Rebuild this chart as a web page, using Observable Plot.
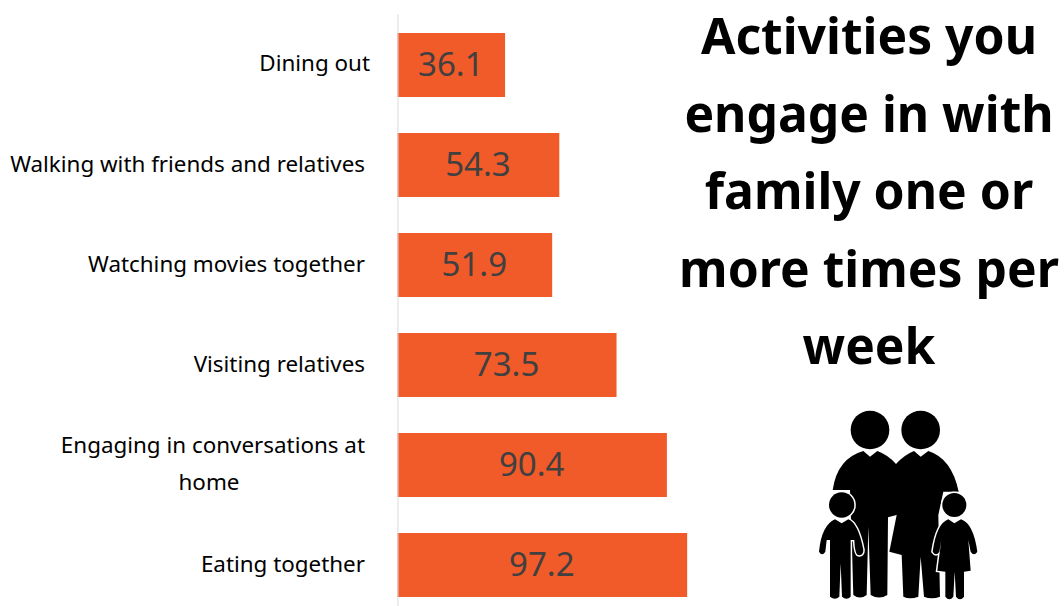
<!DOCTYPE html>
<html><head><meta charset="utf-8">
<script src="https://cdn.jsdelivr.net/npm/d3@7"></script>
<script src="https://cdn.jsdelivr.net/npm/@observablehq/plot@0.6"></script>
<style>
html,body{margin:0;padding:0;background:#fff}
#wrap{position:relative;width:1064px;height:606px;overflow:hidden}
#title{position:absolute;left:669px;top:-3px;width:400px;text-align:center;font:700 49.8px/77.5px "Noto Sans",sans-serif;color:#000}
#icon{position:absolute;left:800px;top:400px}
</style></head><body>
<div id="wrap"><div id="chart"></div>
<div id="title">Activities you<br>engage in with<br>family one or<br>more times per<br>week</div>
<svg id="icon" width="200" height="206" viewBox="0 0 600 618">
<g fill="#000">
<circle cx="210" cy="90" r="58"/><circle cx="362" cy="90" r="58"/>
<path d="M190,153 L210,170 L232,153 Q265,165 288,192 Q312,165 342,153 L362,170 L385,153 Q455,175 476,275 L430,275 L415,345 L420,590 Q395,600 372,590 L362,470 L355,590 Q330,600 310,590 L305,465 L268,455 L290,345 L264,352 L262,585 Q238,600 212,585 L205,380 L200,585 Q180,600 160,585 L150,270 L98,270 Q112,175 190,153 Z"/>
</g>
<g fill="#000" stroke="#fff" stroke-width="9" paint-order="stroke">
<circle cx="125" cy="315" r="38"/><circle cx="463" cy="315" r="36"/>
<path d="M105,358 L125,370 L145,358 Q175,370 190,450 Q190,468 175,465 Q165,465 163,420 L152,420 L152,590 Q140,602 126,590 L122,490 L118,590 Q105,602 90,590 L90,420 L80,420 L76,455 Q66,470 57,455 Q65,375 105,358 Z"/>
<path d="M445,358 L463,370 L483,358 Q520,370 532,455 Q522,470 512,455 L505,420 L512,512 L492,515 L492,590 Q480,605 468,590 L464,515 L460,590 Q448,605 436,590 L436,515 L412,512 L424,420 L418,455 Q408,470 398,455 Q410,370 445,358 Z"/>
</g>
</svg>
</div>
<script>
const categories = ["Dining out","Walking with friends and relatives","Watching movies together","Visiting relatives","Engaging in conversations at home","Eating together"];
const values = [36.1,54.3,51.9,73.5,90.4,97.2];
const wrapped = ["Dining out","Walking with friends and relatives","Watching movies together","Visiting relatives","Engaging in conversations at\nhome","Eating together"];
const rows = categories.map((c,i)=>({c,v:values[i],l:wrapped[i]}));
const font = '"Noto Sans",sans-serif';
const size = 22.4;
const chart = Plot.plot({
  width:1064,height:606,marginTop:14,marginBottom:0,marginLeft:0,marginRight:0,
  style:{background:"transparent"},
  x:{domain:[0,100],range:[397.5,695.5],axis:null},
  y:{domain:categories,range:[14.4,615.6],paddingInner:0.36,paddingOuter:0.18,axis:null},
  marks:[
    Plot.barX(rows,{x:"v",y:"c",fill:"#F15A29"}),
    Plot.ruleX([0],{stroke:"#d9d9d9",strokeWidth:1}),
    Plot.text(rows,{y:"c",text:d=>d.v.toFixed(1),x:d=>d.v/2,dx:-1,dy:-0.5,fill:"#404040",fontSize:33,fontFamily:font}),
    Plot.text(rows.filter(d=>d.c==="Dining out"),{x:0,y:"c",text:"l",textAnchor:"end",dx:-28,dy:-2,fill:"#000",fontSize:size,fontFamily:font}),
    Plot.text(rows.filter(d=>d.c!=="Dining out"&&!d.l.includes("\n")),{x:0,y:"c",text:"l",textAnchor:"end",dx:-33,dy:-1,fill:"#000",fontSize:size,fontFamily:font}),
    Plot.text(rows.filter(d=>d.l.includes("\n")),{x:0,y:"c",text:d=>d.l.split("\n")[0],textAnchor:"end",dx:-33,dy:-20,fill:"#000",fontSize:size,fontFamily:font}),
    Plot.text(rows.filter(d=>d.l.includes("\n")),{x:0,y:"c",text:d=>d.l.split("\n")[1],textAnchor:"middle",dx:-189,dy:17,fill:"#000",fontSize:size,fontFamily:font})
  ]
});
document.getElementById("chart").appendChild(chart);
</script>
</body></html>
